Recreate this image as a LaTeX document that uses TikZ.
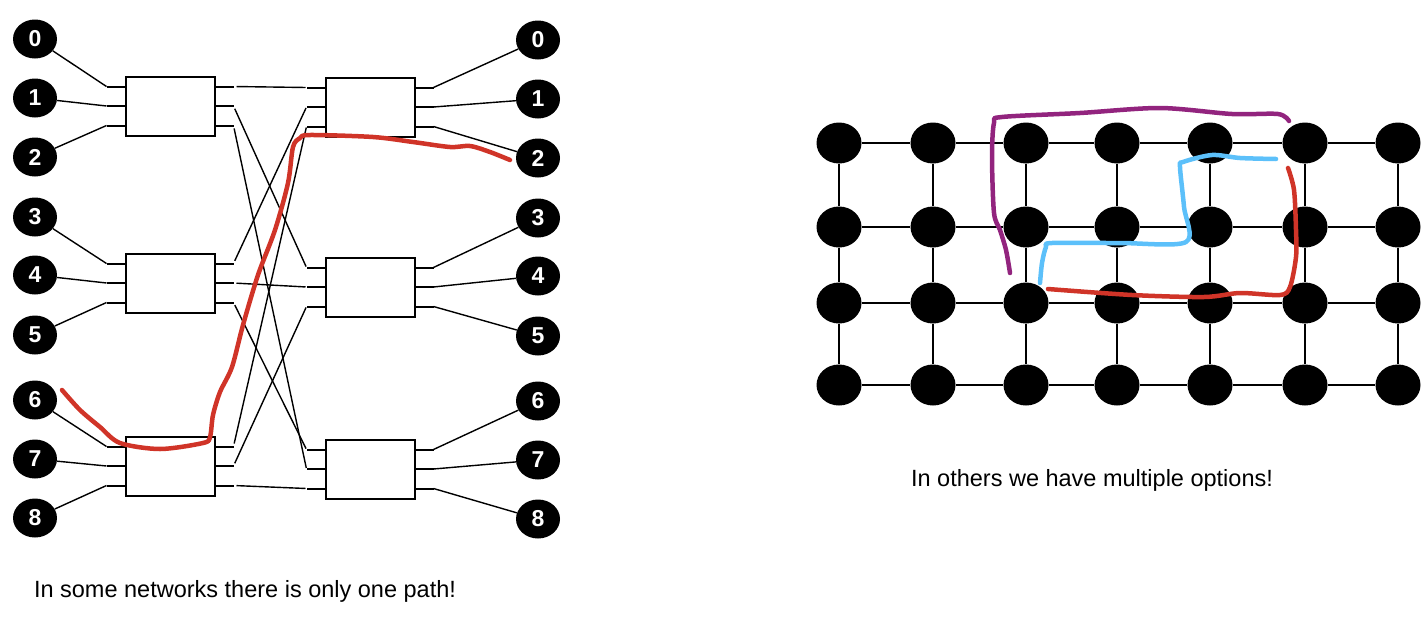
\documentclass[tikz,border=0pt]{standalone}
\usepackage{fontspec}
\setmainfont{Liberation Sans}
\usetikzlibrary{shapes.geometric}

\definecolor{pathred}{RGB}{208,52,40}
\definecolor{pathpurple}{RGB}{146,36,126}
\definecolor{pathblue}{RGB}{92,192,250}

\tikzset{
  port/.style={ellipse,fill=black,text=white,minimum width=44pt,minimum height=39pt,inner sep=0pt,font=\fontsize{23}{23}\selectfont\bfseries},
  switchbox/.style={draw,line width=2pt,minimum width=89pt,minimum height=59pt,inner sep=0pt},
  gridnode/.style={ellipse,fill=black,minimum width=45pt,minimum height=41pt,inner sep=0pt},
  wire/.style={line width=1.4pt},
  stub/.style={line width=2pt},
  scribble/.style={line width=4.5pt,line cap=round,line join=round},
  caption/.style={font=\fontsize{23.5}{28}\selectfont},
}

\begin{document}
\begin{tikzpicture}[x=1pt,y=-1pt]
\useasboundingbox (0,0) rectangle (1423,624);
\def\pg{19.5}

% inputs and outputs
\foreach \n/\y in {0/39,1/98,2/157,3/217,4/275,5/335,6/400,7/459,8/518} {
  \node[port] (in\n) at (35,\y) {\n};
  \node[port] (out\n) at (538,\y+1) {\n};
}

% switches
\foreach \i/\y in {1/106,2/283,3/466} {
  \node[switchbox] (L\i) at (170,\y) {};
  \foreach \j in {0,1,2} {
    \draw[stub] ([yshift=(1-\j)*\pg pt]L\i.west) -- ++(-18,0) coordinate (L\i-a\j);
    \draw[stub] ([yshift=(1-\j)*\pg pt]L\i.east) -- ++(18,0) coordinate (L\i-b\j);
  }
}
\foreach \i/\y in {1/107,2/287,3/469} {
  \node[switchbox] (R\i) at (370,\y) {};
  \foreach \j in {0,1,2} {
    \draw[stub] ([yshift=(1-\j)*\pg pt]R\i.west) -- ++(-18,0) coordinate (R\i-a\j);
    \draw[stub] ([yshift=(1-\j)*\pg pt]R\i.east) -- ++(18,0) coordinate (R\i-b\j);
  }
}

% wiring
\foreach \n/\s/\p in {0/1/0,1/1/1,2/1/2,3/2/0,4/2/1,5/2/2,6/3/0,7/3/1,8/3/2} {
  \draw[wire] (in\n) -- (L\s-a\p);
  \draw[wire] (R\s-b\p) -- (out\n);
}
\foreach \s/\p/\t/\q in {1/0/1/0,1/1/2/0,1/2/3/1,2/0/1/1,2/1/2/1,2/2/3/0,3/0/1/2,3/1/2/2,3/2/3/2}
  \draw[wire,shorten <=3pt,shorten >=1pt] (L\s-b\p) -- (R\t-a\q);

% the only path
\draw[scribble,pathred] plot[smooth,tension=0.5] coordinates {(62,390) (80,410) (100,427) (120,443) (160,449) (203,443) (210,437) (213,415) (220,392) (232,367) (243,325) (258,275) (275,230) (288,183) (293,147) (300,138) (310,135) (373,137) (413,142) (450,147) (470,146) (490,152) (510,160)};

\node[caption] (capL) at (245,591) {In some networks there is only one path!};

% mesh
\foreach \c/\x in {1/839,2/933,3/1026,4/1117,5/1210,6/1305,7/1398}
  \foreach \r/\y in {1/143,2/227,3/303,4/385}
    \node[gridnode] (g\c-\r) at (\x,\y) {};
\foreach \c/\cn in {1/2,2/3,3/4,4/5,5/6,6/7}
  \foreach \r in {1,2,3,4}
    \draw[wire] (g\c-\r) -- (g\cn-\r);
\foreach \c in {1,2,3,4,5,6,7}
  \foreach \r/\rn in {1/2,2/3,3/4}
    \draw[wire] (g\c-\r) -- (g\c-\rn);

% several paths
\draw[scribble,pathpurple] plot[smooth,tension=0.5] coordinates {(1010,273) (1006,250) (1000,230) (994,213) (992,157) (994,123) (1002,117) (1080,113) (1160,108) (1232,114) (1278,114) (1289,121)};
\draw[scribble,pathblue] plot[smooth,tension=0.5] coordinates {(1040,283) (1042,263) (1046,247) (1052,243) (1120,243) (1186,242) (1184,207) (1180,167) (1183,162) (1212,155) (1240,158) (1276,159)};
\draw[scribble,pathred] plot[smooth,tension=0.5] coordinates {(1048,289) (1132,295) (1204,297) (1240,293) (1280,295) (1290,287) (1296,257) (1296,230) (1294,190) (1288,168)};

\node[caption] (capR) at (1092,480) {In others we have multiple options!};
\end{tikzpicture}
\end{document}
